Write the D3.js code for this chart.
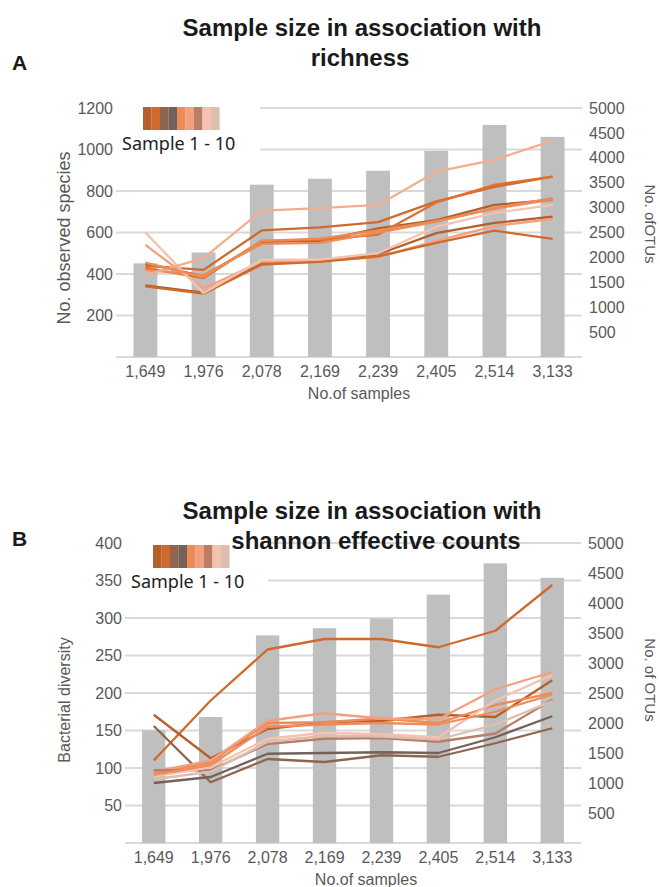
<!DOCTYPE html>
<html>
<head>
<meta charset="utf-8">
<script src="https://cdn.jsdelivr.net/npm/d3@7"></script>
<style>
  body { margin: 0; background: #fff; }
  svg text { font-family: "Liberation Sans", Arial, sans-serif; }
</style>
</head>
<body>
<div id="chart"></div>
<script>
// shared categories / bars
const samples = ["1,649", "1,976", "2,078", "2,169", "2,239", "2,405", "2,514", "3,133"];
const otus = [1880, 2100, 3460, 3580, 3740, 4140, 4660, 4420];

// panel A: observed species per sample (10 samples)
const richness = [
  [450, 390, 555, 560, 620, 660, 733, 757],
  [440, 420, 610, 625, 650, 750, 820, 869],
  [345, 310, 450, 465, 495, 597, 646, 676],
  [430, 380, 560, 565, 590, 745, 830, 869],
  [420, 395, 545, 550, 600, 652, 718, 766],
  [540, 330, 460, 465, 480, 560, 631, 665],
  [340, 305, 445, 458, 485, 550, 609, 569],
  [600, 308, 468, 470, 500, 628, 694, 733],
  [395, 477, 705, 717, 733, 893, 950, 1043],
  [455, 385, 560, 570, 610, 655, 715, 760]
];

// panel B: shannon effective counts per sample
const shannon = [
  [110, 190, 258, 272, 272, 261, 283, 344],
  [171, 113, 152, 161, 163, 171, 168, 217],
  [156, 81, 112, 108, 117, 115, 133, 153],
  [80, 88, 119, 120, 121, 120, 141, 169],
  [93, 108, 160, 161, 166, 160, 184, 200],
  [95, 110, 163, 173, 166, 165, 205, 228],
  [97, 97, 132, 139, 140, 135, 146, 191],
  [89, 101, 139, 147, 145, 141, 190, 224],
  [85, 95, 135, 143, 142, 138, 158, 189],
  [91, 104, 155, 158, 160, 158, 175, 198]
];

const richnessTicks = [200, 400, 600, 800, 1000, 1200];
const shannonTicks = [50, 100, 150, 200, 250, 300, 350, 400];
const otuTicks = [500, 1000, 1500, 2000, 2500, 3000, 3500, 4000, 4500, 5000];

const legendColors = ["#B5602A", "#D06A2C", "#8F6550", "#74625A", "#EE8A55", "#F2A07F", "#B87F66", "#F5C1B0", "#DDBFB0"];
const colorsA = ["#B5602A", "#D06A2C", "#B5602A", "#E0702D", "#EE8A55", "#F2A07F", "#D06A2C", "#F5C1B0", "#F4AE8E", "#EE8A55"];
const colorsB = ["#D06A2C", "#B5602A", "#8F6550", "#74625A", "#EE8A55", "#F2A07F", "#B87F66", "#F5C1B0", "#DDBFB0", "#F08C5A"];

const BAR_COLOR = "#BFBFBF";
const GRID_COLOR = "#D9D9D9";
const TEXT_GRAY = "#595959";

let svg = d3.select("#chart").append("svg").attr("width", 660).attr("height", 887);

function drawPanel(p) {
    let x = d3.scaleBand().domain(samples).range([p.left, p.right]).paddingInner(0.59).paddingOuter(0.3);
    let yL = d3.scaleLinear().domain([0, p.leftMax]).range([p.bottom, p.top]);
    let yR = d3.scaleLinear().domain([0, 5000]).range([p.bottom, p.top]);
    let g = svg.append("g");

    // gridlines on the left axis
    g.append("g").selectAll("line").data([0].concat(p.leftTicks)).join("line")
        .attr("x1", p.left).attr("x2", p.right)
        .attr("y1", d => yL(d)).attr("y2", d => yL(d))
        .attr("stroke", GRID_COLOR).attr("stroke-width", 2);

    // bars = OTUs on right axis
    g.append("g").selectAll("rect").data(otus).join("rect")
        .attr("x", (d, i) => x(samples[i]))
        .attr("width", x.bandwidth())
        .attr("y", d => yR(d))
        .attr("height", d => p.bottom - yR(d))
        .attr("fill", BAR_COLOR);

    // legend box covers the top gridlines
    let lg = g.append("g");
    lg.append("rect").attr("x", p.left).attr("y", p.legY - 7).attr("width", p.legBoxW).attr("height", 60).attr("fill", "#fff");
    lg.selectAll("rect.sw").data(legendColors).join("rect").attr("class", "sw")
        .attr("x", (d, i) => p.legX + i * 8.5).attr("y", p.legY)
        .attr("width", 8.6).attr("height", 23).attr("fill", d => d);
    lg.append("text").attr("x", p.legTextX).attr("y", p.legY + 43)
        .style("font-family", "'Noto Sans', 'Open Sans', sans-serif")
        .attr("font-size", 18).attr("fill", "#222").text("Sample 1 - 10");

    // lines
    let line = d3.line().x((d, i) => x(samples[i]) + x.bandwidth() / 2).y(d => yL(d));
    g.append("g").selectAll("path").data(p.series).join("path")
        .attr("d", line).attr("fill", "none")
        .attr("stroke", (d, i) => p.colors[i]).attr("stroke-width", 2.3)
        .attr("stroke-linejoin", "round");

    // axes
    let axL = g.append("g").attr("transform", `translate(${p.left - 3},0)`)
        .call(d3.axisLeft(yL).tickValues(p.leftTicks).tickSize(0).tickPadding(0).tickFormat(d3.format("d")));
    let axR = g.append("g").attr("transform", `translate(${p.right + 7},0)`)
        .call(d3.axisRight(yR).tickValues(otuTicks).tickSize(0).tickPadding(0).tickFormat(d3.format("d")));
    let axX = g.append("g").attr("transform", `translate(0,${p.bottom + 9})`)
        .call(d3.axisBottom(x).tickSize(0).tickPadding(0));
    [axL, axR, axX].forEach(a => {
        a.select(".domain").remove();
        a.selectAll("text").attr("fill", TEXT_GRAY).attr("font-size", 16)
            .style("font-family", "'Liberation Sans', Arial, sans-serif");
    });
    axX.selectAll("text").attr("dy", "0.71em");

    g.append("text").attr("x", p.xTitleX).attr("y", p.bottom + 42).attr("text-anchor", "middle")
        .attr("font-size", 16).attr("fill", TEXT_GRAY).text("No.of samples");

    g.append("text").attr("transform", `translate(${p.yTitleX},${p.yTitleY}) rotate(-90)`)
        .attr("text-anchor", "middle").attr("font-size", p.yTitleSize).attr("fill", TEXT_GRAY).text(p.leftTitle);
    g.append("text").attr("transform", `translate(${p.rTitleX},${p.rTitleY}) rotate(90)`)
        .attr("text-anchor", "middle").attr("font-size", 15).attr("fill", TEXT_GRAY).text(p.rightTitle);

    // titles
    p.title.forEach((t, i) => {
        g.append("text").attr("x", p.titleX[i]).attr("y", p.titleY + i * 30).attr("text-anchor", "middle")
            .attr("font-size", 24).attr("font-weight", "bold").attr("fill", "#1a1a1a").text(t);
    });
    g.append("text").attr("x", 12).attr("y", p.letterY).attr("font-size", 21)
        .attr("font-weight", "bold").attr("fill", "#1a1a1a").text(p.letter);
}

drawPanel({
    letter: "A", letterY: 70, title: ["Sample size in association with", "richness"], titleY: 36, titleX: [362, 360],
    left: 116, right: 582, top: 108, bottom: 357, leftMax: 1200, leftTicks: richnessTicks,
    series: richness, colors: colorsA,
    legX: 143, legY: 107, legBoxW: 144, legTextX: 122,
    xTitleX: 359, yTitleX: 70, yTitleY: 238, yTitleSize: 18, leftTitle: "No. observed species",
    rTitleX: 645, rTitleY: 224, rightTitle: "No. ofOTUs"
});

drawPanel({
    letter: "B", letterY: 546, title: ["Sample size in association with", "shannon effective counts"], titleY: 519, titleX: [362, 376],
    left: 125, right: 581, top: 543, bottom: 843, leftMax: 400, leftTicks: shannonTicks,
    series: shannon, colors: colorsB,
    legX: 153, legY: 545, legBoxW: 143, legTextX: 131,
    xTitleX: 366, yTitleX: 70, yTitleY: 700, yTitleSize: 16, leftTitle: "Bacterial diversity",
    rTitleX: 645, rTitleY: 680, rightTitle: "No. of OTUs"
});
</script>
</body>
</html>
